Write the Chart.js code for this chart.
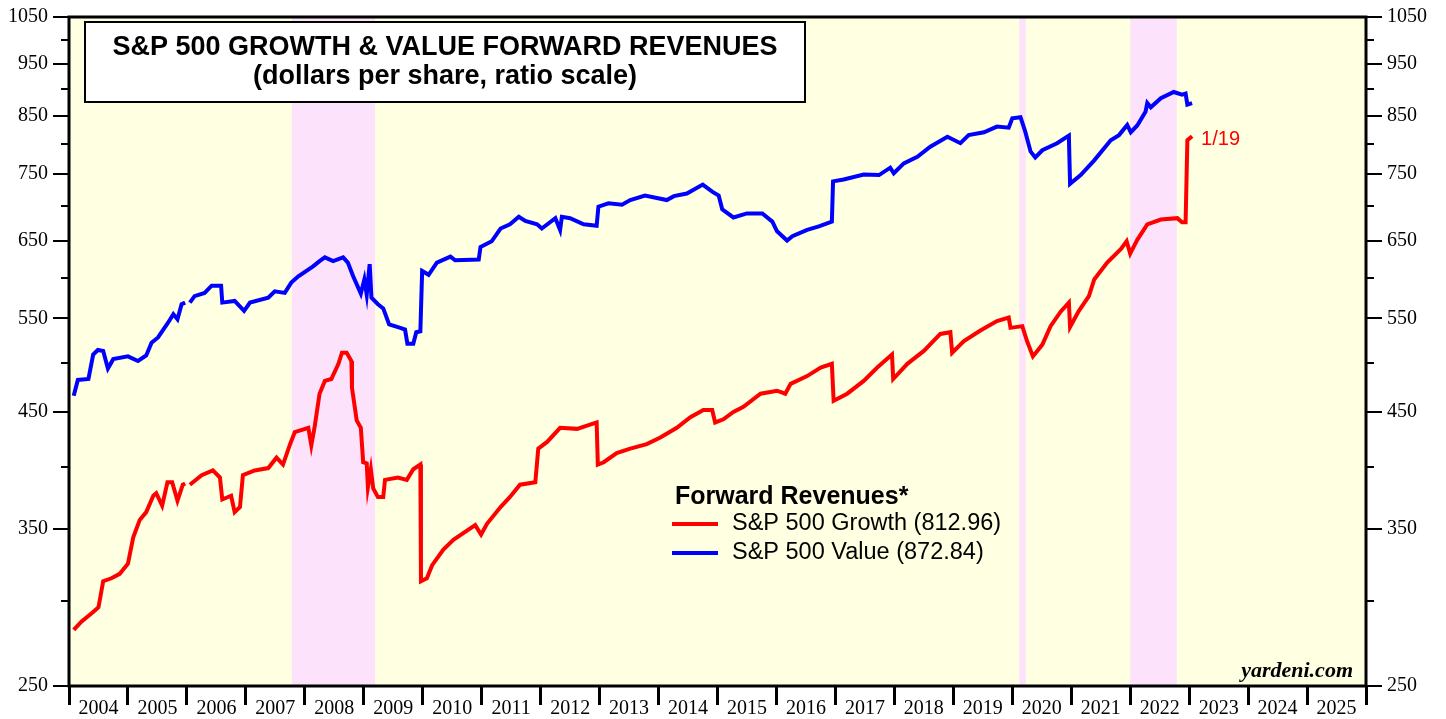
<!DOCTYPE html>
<html>
<head>
<meta charset="utf-8">
<script src="https://cdn.jsdelivr.net/npm/chart.js@4.4.1/dist/chart.umd.min.js"></script>
<style>
html, body { margin: 0; padding: 0; background: #fff; }
#wrap { width: 1446px; height: 719px; }
</style>
</head>
<body>
<div id="wrap"><canvas id="grafico" width="1446" height="719"></canvas></div>
<script>
// S&P 500 Growth forward revenues (decimal year, $/share)
const growthDates = [
  2004.08, 2004.21, 2004.41, 2004.50, 2004.58, 2004.72, 2004.86, 2005.00, 2005.09, 2005.20,
  2005.31, 2005.43, 2005.48, 2005.58, 2005.67, 2005.75, 2005.84, 2005.93, 2005.97, 2006.01,
  2006.05, 2006.25, 2006.44, 2006.56, 2006.60, 2006.75, 2006.81, 2006.90, 2006.95, 2007.15,
  2007.38, 2007.52, 2007.63, 2007.75, 2007.83, 2008.06, 2008.11, 2008.17, 2008.25, 2008.34,
  2008.45, 2008.57, 2008.63, 2008.71, 2008.79, 2008.80, 2008.88, 2008.95, 2008.99, 2009.05,
  2009.07, 2009.12, 2009.16, 2009.24, 2009.33, 2009.36, 2009.58, 2009.73, 2009.84, 2009.96,
  2009.97, 2010.07, 2010.16, 2010.35, 2010.52, 2010.89, 2010.99, 2011.09, 2011.32, 2011.48,
  2011.65, 2011.91, 2011.96, 2012.11, 2012.33, 2012.62, 2012.95, 2012.97, 2013.07, 2013.29,
  2013.52, 2013.80, 2014.03, 2014.31, 2014.54, 2014.76, 2014.91, 2014.96, 2015.10, 2015.27,
  2015.44, 2015.73, 2016.01, 2016.15, 2016.24, 2016.52, 2016.75, 2016.94, 2016.97, 2017.20,
  2017.48, 2017.71, 2017.96, 2017.98, 2018.22, 2018.50, 2018.78, 2018.95, 2018.98, 2019.18,
  2019.46, 2019.74, 2019.94, 2019.97, 2020.17, 2020.25, 2020.35, 2020.51, 2020.65, 2020.82,
  2020.96, 2020.98, 2021.13, 2021.30, 2021.39, 2021.61, 2021.84, 2021.94, 2022.00, 2022.12,
  2022.29, 2022.52, 2022.80, 2022.88, 2022.94, 2022.97, 2023.05
];
const growthValues = [
  282, 287, 293, 296, 313, 315, 318, 325, 344, 357,
  363, 376, 378, 368, 387, 387, 372, 385, 386, null,
  385, 393, 397, 391, 373, 376, 363, 367, 393, 397,
  399, 408, 402, 420, 431, 435, 419, 437, 468, 481,
  483, 499, 511, 511, 502, 474, 442, 435, 404, 403,
  383, 398, 382, 375, 375, 389, 391, 389, 398, 402,
  313, 315, 324, 335, 342, 353, 346, 354, 367, 375,
  385, 387, 416, 422, 435, 434, 440, 402, 404, 412,
  416, 420, 426, 435, 445, 452, 452, 440, 443, 450,
  455, 468, 471, 468, 478, 486, 495, 499, 461, 468,
  481, 495, 509, 483, 499, 513, 532, 534, 511, 524,
  536, 547, 551, 539, 541, 524, 507, 520, 541, 558,
  569, 540, 559, 577, 598, 620, 638, 649, 632, 651,
  673, 680, 682, 676, 676, 806, 812.96
];

// S&P 500 Value forward revenues
const valueDates = [
  2004.08, 2004.15, 2004.33, 2004.41, 2004.49, 2004.58, 2004.66, 2004.75, 2005.00, 2005.17,
  2005.31, 2005.40, 2005.51, 2005.68, 2005.77, 2005.84, 2005.91, 2005.97, 2006.01, 2006.05,
  2006.13, 2006.30, 2006.42, 2006.58, 2006.60, 2006.81, 2006.97, 2007.07, 2007.38, 2007.49,
  2007.66, 2007.77, 2007.89, 2008.14, 2008.25, 2008.34, 2008.48, 2008.65, 2008.73, 2008.82,
  2008.95, 2009.01, 2009.05, 2009.10, 2009.13, 2009.24, 2009.33, 2009.43, 2009.62, 2009.70,
  2009.74, 2009.84, 2009.89, 2009.96, 2009.99, 2010.10, 2010.24, 2010.47, 2010.55, 2010.95,
  2010.98, 2011.17, 2011.32, 2011.48, 2011.63, 2011.74, 2011.94, 2012.02, 2012.25, 2012.33,
  2012.36, 2012.50, 2012.73, 2012.95, 2012.98, 2013.15, 2013.38, 2013.52, 2013.77, 2014.14,
  2014.26, 2014.48, 2014.75, 2014.91, 2015.02, 2015.08, 2015.27, 2015.50, 2015.76, 2015.93,
  2016.01, 2016.18, 2016.27, 2016.52, 2016.72, 2016.94, 2016.96, 2017.14, 2017.48, 2017.74,
  2017.93, 2017.99, 2018.16, 2018.39, 2018.61, 2018.90, 2019.12, 2019.26, 2019.52, 2019.74,
  2019.94, 2020.00, 2020.14, 2020.22, 2020.31, 2020.39, 2020.51, 2020.76, 2020.96, 2020.98,
  2021.16, 2021.39, 2021.67, 2021.81, 2021.95, 2022.01, 2022.12, 2022.26, 2022.29, 2022.35,
  2022.52, 2022.74, 2022.88, 2022.94, 2022.97, 2023.05
];
const valueValues = [
  466, 482, 483, 509, 514, 513, 494, 504, 507, 502,
  508, 522, 528, 545, 555, 549, 567, 569, null, 569,
  577, 581, 590, 590, 569, 571, 559, 569, 575, 583,
  581, 594, 602, 615, 622, 627, 622, 627, 620, 602,
  580, 598, 579, 618, 575, 567, 562, 543, 539, 537,
  521, 521, 534, 535, 609, 604, 620, 628, 623, 624,
  641, 649, 667, 673, 684, 678, 673, 667, 682, 665,
  684, 682, 673, 671, 699, 704, 702, 709, 716, 709,
  715, 719, 733, 722, 716, 695, 683, 689, 689, 677,
  663, 650, 656, 665, 670, 677, 738, 741, 749, 748,
  760, 751, 767, 778, 795, 812, 801, 815, 820, 830,
  828, 845, 847, 821, 787, 777, 789, 801, 814, 734,
  748, 772, 806, 815, 833, 820, 832, 857, 873, 865,
  882, 894, 889, 891, 870, 872.84
];

// shaded periods
const shadeStart = [2007.78, 2020.12, 2022.0];
const shadeEnd = [2009.19, 2020.23, 2022.79];

const yTicks = [250, 300, 350, 400, 450, 500, 550, 600, 650, 700, 750, 800, 850, 900, 950, 1000, 1050];
const yLabeled = [250, 350, 450, 550, 650, 750, 850, 950, 1050];
const xYears = [];
for (let a = 2004; a <= 2026; a++) xYears.push(a);

const growthPoints = growthDates.map((d, i) => ({ x: d, y: growthValues[i] }));
const valuePoints = valueDates.map((d, i) => ({ x: d, y: valueValues[i] }));

const SERIF = "'Liberation Serif', 'Times New Roman', serif";
const SANS = "'Liberation Sans', Arial, sans-serif";

const fundo = {
  id: 'fundo',
  beforeDraw(chart) {
    const c = chart.ctx, a = chart.chartArea, x = chart.scales.x;
    c.save();
    c.fillStyle = '#ffffff';
    c.fillRect(0, 0, chart.width, chart.height);
    c.fillStyle = '#ffffe2';
    c.fillRect(a.left, a.top, a.right - a.left, a.bottom - a.top);
    c.fillStyle = '#fce3fb';
    for (let i = 0; i < shadeStart.length; i++) {
      const x0 = x.getPixelForValue(shadeStart[i]);
      const x1 = x.getPixelForValue(shadeEnd[i]);
      c.fillRect(x0, a.top, x1 - x0, a.bottom - a.top);
    }
    c.restore();
  },
  afterDatasetsDraw(chart) {
    const c = chart.ctx, a = chart.chartArea, y = chart.scales.y;
    c.save();
    // frame
    c.strokeStyle = '#000';
    c.lineWidth = 3;
    c.strokeRect(a.left, a.top, a.right - a.left, a.bottom - a.top);
    // minor ticks
    c.lineWidth = 2;
    yTicks.filter(v => !yLabeled.includes(v)).forEach(v => {
      const py = Math.round(y.getPixelForValue(v));
      c.beginPath();
      c.moveTo(a.left - 8, py); c.lineTo(a.left, py);
      c.moveTo(a.right, py); c.lineTo(a.right + 8, py);
      c.stroke();
    });

    // title box
    c.fillStyle = '#fff';
    c.fillRect(85, 22, 720, 80);
    c.lineWidth = 2;
    c.strokeRect(85, 22, 720, 80);
    c.fillStyle = '#000';
    c.textAlign = 'center';
    c.textBaseline = 'middle';
    c.font = 'bold 27px ' + SANS;
    c.fillText('S&P 500 GROWTH & VALUE FORWARD REVENUES', 445, 48);
    c.fillText('(dollars per share, ratio scale)', 445, 77);

    // legend
    c.textAlign = 'left';
    c.font = 'bold 25px ' + SANS;
    c.fillText('Forward Revenues*', 675, 497);
    c.font = '23.5px ' + SANS;
    c.lineWidth = 4;
    c.strokeStyle = '#ff0000';
    c.beginPath(); c.moveTo(672, 524); c.lineTo(718, 524); c.stroke();
    c.fillText('S&P 500 Growth (812.96)', 732, 524);
    c.strokeStyle = '#0000ff';
    c.beginPath(); c.moveTo(672, 553); c.lineTo(718, 553); c.stroke();
    c.fillText('S&P 500 Value (872.84)', 732, 553);

    // last date label
    const meta = chart.getDatasetMeta(0);
    const last = meta.data[meta.data.length - 1];
    c.fillStyle = '#ff0000';
    c.font = '20px ' + SANS;
    c.fillText('1/19', last.x + 9, last.y + 3);

    // source
    c.fillStyle = '#000';
    c.textAlign = 'right';
    c.textBaseline = 'alphabetic';
    c.font = 'italic bold 22px ' + SERIF;
    c.fillText('yardeni.com', a.right - 13, a.bottom - 9);
    c.restore();
  }
};

function eixoY(pos) {
  return {
    type: 'logarithmic',
    position: pos,
    min: 250,
    max: 1050,
    afterBuildTicks: (s) => { s.ticks = yTicks.map(v => ({ value: v })); },
    afterFit: (s) => { s.width = pos === 'left' ? 69 : 80; },
    border: { display: false },
    grid: {
      drawOnChartArea: false,
      drawTicks: true,
      tickLength: 16,
      lineWidth: 2,
      tickColor: (ctx) => (ctx.tick && yLabeled.includes(ctx.tick.value)) ? '#000' : 'rgba(0,0,0,0)'
    },
    ticks: {
      color: '#000',
      padding: 5,
      autoSkip: false,
      font: { family: SERIF, size: 20 },
      callback: (v) => yLabeled.includes(v) ? String(v) : ''
    }
  };
}

new Chart(document.getElementById('grafico'), {
  type: 'line',
  data: {
    datasets: [
      {
        label: 'S&P 500 Growth',
        data: growthPoints,
        borderColor: '#ff0000',
        borderWidth: 4,
        pointRadius: 0,
        tension: 0,
        yAxisID: 'y'
      },
      {
        label: 'S&P 500 Value',
        data: valuePoints,
        borderColor: '#0000ff',
        borderWidth: 4,
        pointRadius: 0,
        tension: 0,
        yAxisID: 'y'
      }
    ]
  },
  options: {
    responsive: false,
    devicePixelRatio: 1,
    animation: false,
    layout: { padding: { top: 15, left: 0, right: 0, bottom: 0 } },
    plugins: {
      legend: { display: false },
      tooltip: { enabled: false }
    },
    scales: {
      x: {
        type: 'linear',
        position: 'bottom',
        min: 2004,
        max: 2026,
        afterBuildTicks: (s) => { s.ticks = xYears.map(v => ({ value: v })); },
        afterFit: (s) => { s.height = 33; },
        border: { display: false },
        grid: {
          drawOnChartArea: false,
          drawTicks: true,
          tickLength: 19,
          lineWidth: 3,
          tickColor: '#000'
        },
        ticks: {
          color: '#000',
          autoSkip: false,
          maxRotation: 0,
          minRotation: 0,
          padding: -8,
          labelOffset: 29.5,
          font: { family: SERIF, size: 20 },
          callback: (v) => v === 2026 ? '' : String(v)
        }
      },
      y: eixoY('left'),
      y2: eixoY('right')
    }
  },
  plugins: [fundo]
});
</script>
</body>
</html>
